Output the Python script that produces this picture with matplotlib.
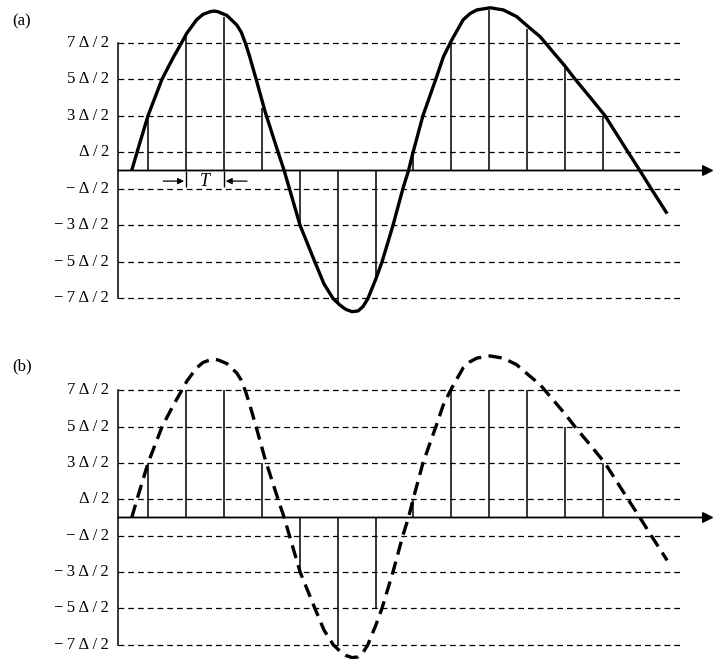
'''
Uniform quantization of a sampled signal: (a) exact samples, (b) quantized samples
'''

import matplotlib
matplotlib.use('Agg')
import matplotlib.pyplot as plt

'''
1. Data (amplitudes in units of Delta, time in units of T)
'''

level_values = [3.5, 2.5, 1.5, 0.5, -0.5, -1.5, -2.5, -3.5]
level_labels = ['7Δ/2', '5Δ/2', '3Δ/2', 'Δ/2', '−Δ/2', '−3Δ/2', '−5Δ/2', '−7Δ/2']

sample_times = [1, 2, 3, 4, 5, 6, 7, 8, 9, 10, 11, 12, 13]
samples_exact = [1.55, 3.77, 4.2, 1.72, -1.5, -3.6, -2.96, 0.5, 3.57, 4.4, 3.87, 2.85, 1.5]
samples_quantized = [1.5, 3.5, 3.5, 1.5, -1.5, -3.5, -2.5, 0.5, 3.5, 3.5, 3.5, 2.5, 1.5]

curve_t = [0.57, 0.71, 1.00, 1.37, 1.67, 1.89, 2.02, 2.28, 2.45, 2.63, 2.74, 2.85,
           3.08, 3.34, 3.46, 3.58, 3.69, 3.85, 4.09, 4.43, 4.59, 4.73, 5.01, 5.40,
           5.64, 5.88, 6.06, 6.22, 6.38, 6.54, 6.67, 6.80, 7.01, 7.17, 7.46, 7.72,
           7.87, 7.99, 8.25, 8.59, 8.79, 9.01, 9.31, 9.49, 9.67, 10.02, 10.37, 10.72,
           11.03, 11.34, 11.51, 12.00, 12.26, 12.66, 13.05, 13.66, 13.97, 14.24, 14.69]
curve_v = [0.0, 0.5, 1.5, 2.5, 3.1, 3.5, 3.75, 4.12, 4.27, 4.34, 4.36, 4.34,
           4.24, 3.98, 3.78, 3.45, 3.08, 2.5, 1.6, 0.5, 0.0, -0.5, -1.5, -2.5,
           -3.1, -3.5, -3.68, -3.8, -3.86, -3.84, -3.72, -3.5, -2.96, -2.5, -1.5, -0.5,
           0.0, 0.5, 1.5, 2.5, 3.11, 3.57, 4.12, 4.29, 4.39, 4.45, 4.39, 4.21,
           3.93, 3.66, 3.45, 2.85, 2.5, 2.0, 1.5, 0.5, 0.0, -0.45, -1.18]

'''
2. Layout helpers
'''

W, H = 723, 659
X0, TPX = 110.1, 37.92          # pixel of t=0 and pixels per T
SERIF = ['Liberation Serif', 'DejaVu Serif']

fig = plt.figure(figsize=(W / 100, H / 100), dpi=100)


def make_axes(top_px, bottom_px, zero_px, step_px):
    ax = fig.add_axes([0, 1 - bottom_px / H, 1, (bottom_px - top_px) / H])
    ax.set_xlim(-X0 / TPX, (W - X0) / TPX)
    ax.set_ylim((zero_px - bottom_px) / step_px, (zero_px - top_px) / step_px)
    ax.axis('off')
    return ax


def spaced(s):
    # the printed labels have loose letter spacing
    return '\u2009'.join(s)


def draw_panel(ax, stems, curve_ls, tag, tag_v):
    y_axis_t = 0.21
    grid_end_t = 15.1
    for v, lab in zip(level_values, level_labels):
        ax.plot([y_axis_t, grid_end_t], [v, v], color='k', lw=0.9,
                ls=(0, (4.6, 3.2)))
        ax.text(-0.03, v, spaced(lab), ha='right', va='center',
                fontsize=12, family=SERIF)
    ax.plot([y_axis_t, y_axis_t], [-3.5, 3.5], color='k', lw=1.1)
    ax.annotate('', xy=(15.92, 0), xytext=(y_axis_t, 0),
                arrowprops=dict(arrowstyle='-|>', lw=1.3, color='k',
                                mutation_scale=16, shrinkA=0, shrinkB=0))
    ax.vlines(sample_times, 0, stems, color='k', lw=1.1)
    ax.plot(curve_t, curve_v, color='k', lw=2.4, ls=curve_ls,
            solid_capstyle='butt', dash_capstyle='butt', solid_joinstyle='round')
    ax.text(-2.59, tag_v, tag, ha='left', va='center', fontsize=12, family=SERIF)


'''
3. Panels
'''

ax_a = make_axes(0, 325, 170.5, 36.57)
draw_panel(ax_a, samples_exact, '-', '(a)', 4.09)

# sampling period marker
ax_a.vlines([2, 3], -0.45, 0, color='k', lw=1.0)
arrow = dict(arrowstyle='-|>', lw=0.9, color='k', mutation_scale=9, shrinkA=0, shrinkB=0)
ax_a.annotate('', xy=(1.95, -0.29), xytext=(1.40, -0.29), arrowprops=arrow)
ax_a.annotate('', xy=(3.05, -0.29), xytext=(3.61, -0.29), arrowprops=arrow)
ax_a.text(2.5, -0.29, 'T', ha='center', va='center', fontsize=13,
          style='italic', family=SERIF)

ax_b = make_axes(330, 659, 517.5, 36.3)
draw_panel(ax_b, samples_quantized, (0, (4.0, 2.2)), '(b)', 4.15)

fig.savefig('out.png', dpi=100)
